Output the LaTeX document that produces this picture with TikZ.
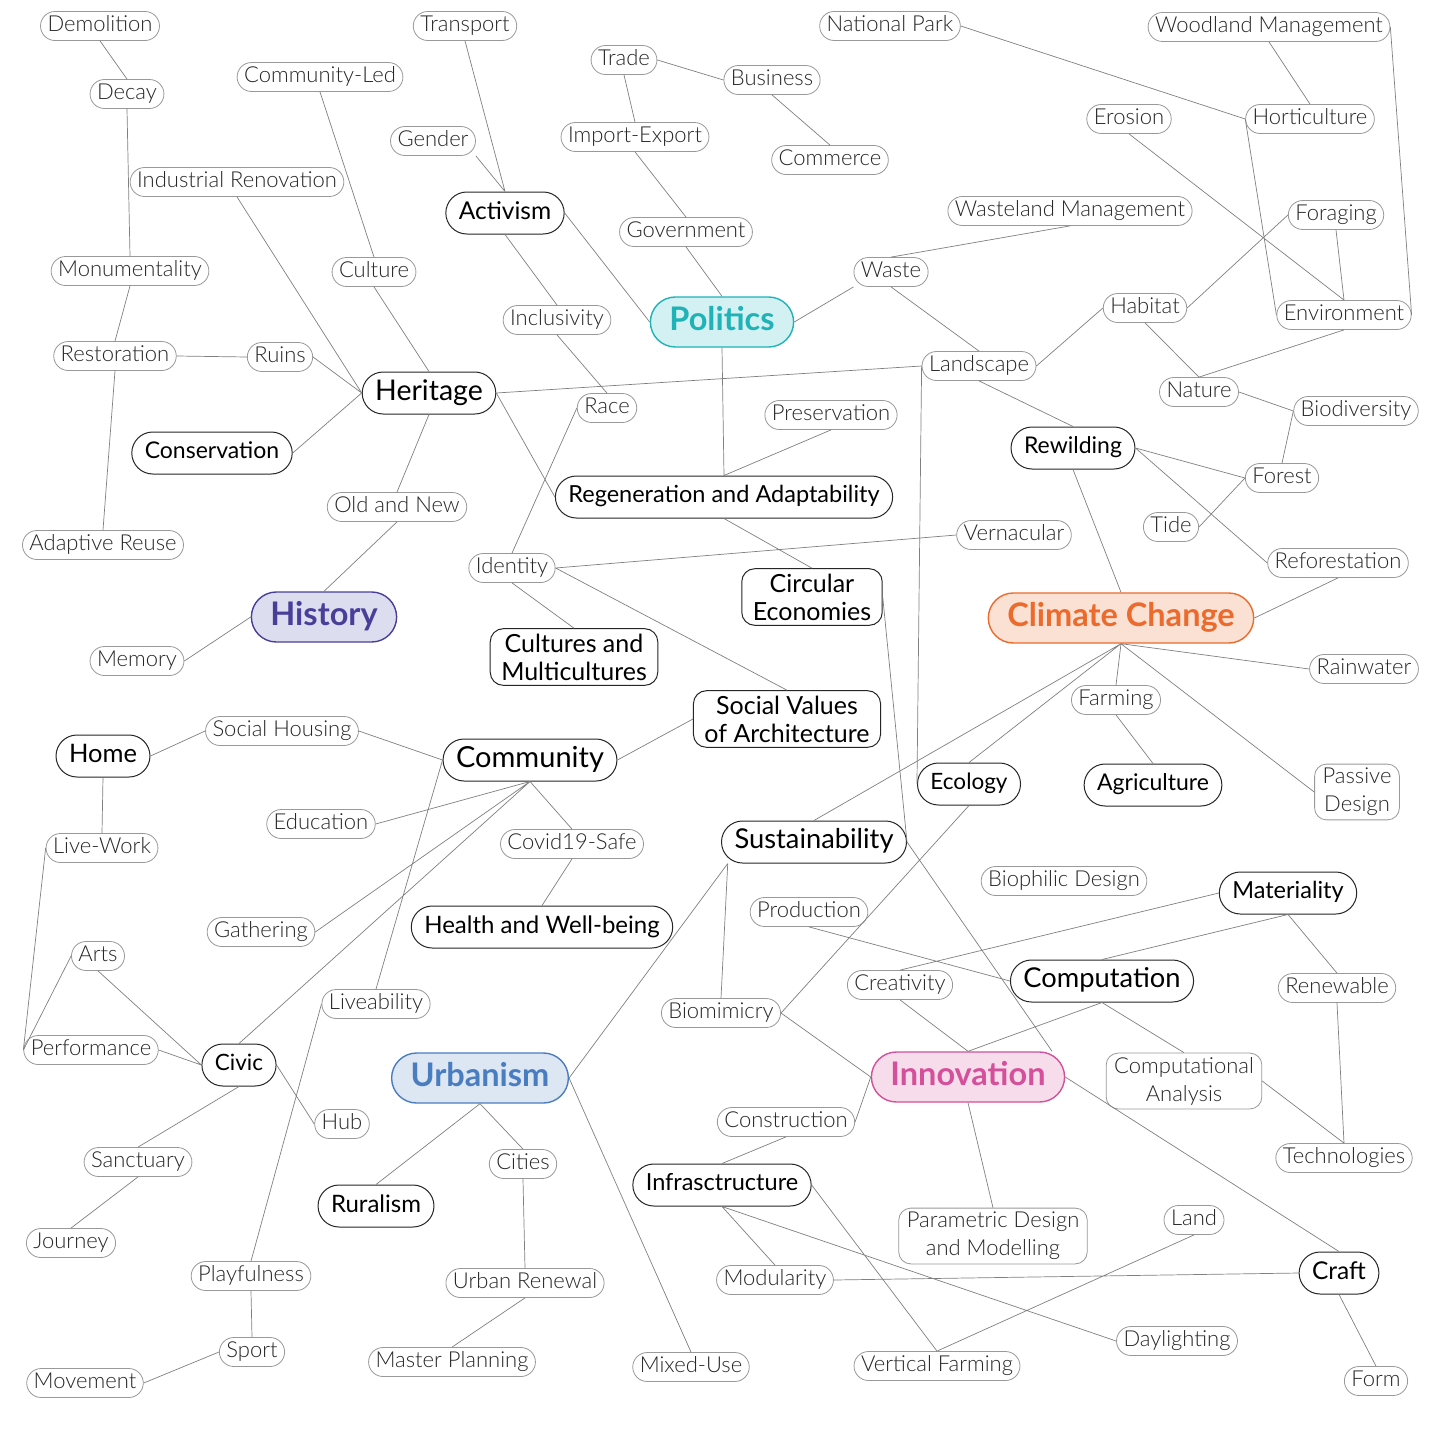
\documentclass[tikz,border=0pt]{standalone}
\usepackage{fontspec}
\setmainfont{Lato}[UprightFont=* Light,BoldFont=* Bold]
\newfontfamily\latomid{Lato}
\definecolor{polcol}{HTML}{1FB3B8}
\definecolor{polfill}{HTML}{D3F1F2}
\definecolor{histcol}{HTML}{4A3F98}
\definecolor{histfill}{HTML}{DDDDF0}
\definecolor{climcol}{HTML}{EC6A2C}
\definecolor{climfill}{HTML}{FBE1D3}
\definecolor{innocol}{HTML}{D4509A}
\definecolor{innofill}{HTML}{F7DDEC}
\definecolor{urbcol}{HTML}{4A7DC0}
\definecolor{urbfill}{HTML}{DDE6F3}
\tikzset{
  sm/.style={draw=black!40, line width=0.8pt, rounded corners=14.5pt, minimum height=29pt,
    inner xsep=7pt, inner ysep=0pt, text height=16pt, text depth=5pt, text=black!85,
    font=\fontsize{22}{24}\selectfont},
  smtwo/.style={draw=black!40, line width=0.8pt, rounded corners=12pt, inner xsep=8pt,
    inner ysep=4pt, align=center, text=black!85, font=\fontsize{22}{28}\selectfont},
  md/.style={draw=black!85, line width=1pt, rounded corners=21pt, minimum height=42pt,
    inner xsep=13pt, inner ysep=0pt, text height={0.72*#1pt}, text depth={0.22*#1pt},
    font=\latomid\fontsize{#1}{#1}\selectfont},
  md/.default=23.5,
  mdtwo/.style={draw=black!85, line width=1pt, rounded corners=13pt, inner xsep=11pt,
    inner ysep=5pt, align=center, font=\latomid\fontsize{25}{28}\selectfont},
  big/.style={draw=#1col, fill=#1fill, text=#1col, line width=1.4pt, rounded corners=25pt,
    minimum height=50pt, inner xsep=19pt, inner ysep=0pt, text height=24pt, text depth=7.5pt,
    font=\bfseries\fontsize{32.5}{35}\selectfont},
  link/.style={draw=black!50, line width=0.7pt}
}
\begin{document}
\begin{tikzpicture}[x=1pt, y=-1pt]
\fill[white] (0,0) rectangle (1443,1443);
\node[sm] (demol) at (100,26) {Demolition};
\node[sm] (decay) at (127,94) {Decay};
\node[sm] (cled) at (320,77) {Community-Led};
\node[sm] (transp) at (465,26) {Transport};
\node[sm] (trade) at (624,60) {Trade};
\node[sm] (busin) at (772,80) {Business};
\node[sm] (natpark) at (890,26) {National Park};
\node[sm] (woodman) at (1269,27) {Woodland Management};
\node[sm] (gender) at (433,141) {Gender};
\node[sm] (impexp) at (635,137) {Import-Export};
\node[sm] (commerce) at (830,160) {Commerce};
\node[sm] (erosion) at (1129,119) {Erosion};
\node[sm] (hortic) at (1310,119) {Horticulture};
\node[sm] (indren) at (237,182) {Industrial Renovation};
\node[md=24.5] (activ) at (505,213) {Activism};
\node[sm] (govt) at (686,232) {Government};
\node[sm] (wasteman) at (1070,211) {Wasteland Management};
\node[sm] (forag) at (1336,215) {Foraging};
\node[sm] (monum) at (130,271) {Monumentality};
\node[sm] (cult) at (374,272) {Culture};
\node[sm] (waste) at (891,272) {Waste};
\node[sm] (habit) at (1145,308) {Habitat};
\node[sm] (envir) at (1344,315) {Environment};
\node[sm] (inclus) at (557,320) {Inclusivity};
\node[big=pol] (polit) at (722,322) {Politics};
\node[sm] (restor) at (115,356) {Restoration};
\node[sm] (ruins) at (280,357) {Ruins};
\node[md=28.5] (herit) at (429,393) {Heritage};
\node[sm] (landsc) at (979,366) {Landscape};
\node[sm] (nature) at (1199,392) {Nature};
\node[sm] (race) at (607,408) {Race};
\node[sm] (preserv) at (831,415) {Preservation};
\node[sm] (biodiv) at (1356,411) {Biodiversity};
\node[md=23] (conserv) at (212,453) {Conservation};
\node[md=23] (rewild) at (1073,448) {Rewilding};
\node[sm] (oldnew) at (397,507) {Old and New};
\node[md] (regen) at (724,497) {Regeneration and Adaptability};
\node[sm] (forest) at (1282,478) {Forest};
\node[sm] (tide) at (1171,527) {Tide};
\node[sm] (vernac) at (1014,535) {Vernacular};
\node[sm] (adapt) at (103,545) {Adaptive Reuse};
\node[sm] (ident) at (512,568) {Identity};
\node[mdtwo] (circ) at (812,597) {Circular\\Economies};
\node[sm] (refor) at (1338,563) {Reforestation};
\node[big=hist] (hist) at (324,617) {History};
\node[big=clim] (clim) at (1121,618) {Climate Change};
\node[mdtwo] (multi) at (574,657) {Cultures and\\Multicultures};
\node[sm] (memory) at (137,661) {Memory};
\node[sm] (rain) at (1364,669) {Rainwater};
\node[sm] (farming) at (1116,700) {Farming};
\node[sm] (sochous) at (282,731) {Social Housing};
\node[mdtwo] (socval) at (787,719) {Social Values\\of Architecture};
\node[md=25.5] (home) at (103,756) {Home};
\node[md=29] (commun) at (530,760) {Community};
\node[md=22.5] (ecol) at (969,784) {Ecology};
\node[md=23] (agri) at (1153,785) {Agriculture};
\node[smtwo] (passive) at (1357,792) {Passive\\Design};
\node[sm] (educ) at (321,824) {Education};
\node[sm] (livework) at (102,848) {Live-Work};
\node[sm] (covid) at (572,844) {Covid19-Safe};
\node[md=27.3] (sustain) at (814,842) {Sustainability};
\node[sm] (biophil) at (1064,881) {Biophilic Design};
\node[md] (mater) at (1288,893) {Materiality};
\node[sm] (product) at (809,912) {Production};
\node[md=24] (health) at (542,927) {Health and Well-being};
\node[sm] (gather) at (261,932) {Gathering};
\node[sm] (arts) at (98,956) {Arts};
\node[sm] (creat) at (900,985) {Creativity};
\node[md=27.3] (comput) at (1102,981) {Computation};
\node[sm] (renew) at (1337,988) {Renewable};
\node[sm] (liveab) at (376,1004) {Liveability};
\node[sm] (biomim) at (721,1013) {Biomimicry};
\node[sm] (perform) at (91,1050) {Performance};
\node[md=22.5] (civic) at (239,1065) {Civic};
\node[big=inno] (innov) at (968,1077) {Innovation};
\node[big=urb] (urban) at (480,1078) {Urbanism};
\node[smtwo] (companal) at (1184,1081) {Computational\\Analysis};
\node[sm] (hub) at (342,1124) {Hub};
\node[sm] (constr) at (786,1122) {Construction};
\node[sm] (sanct) at (138,1162) {Sanctuary};
\node[sm] (cities) at (523,1164) {Cities};
\node[sm] (techn) at (1344,1158) {Technologies};
\node[md] (infra) at (722,1185) {Infrasctructure};
\node[md=24] (rural) at (376,1206) {Ruralism};
\node[sm] (land) at (1194,1220) {Land};
\node[smtwo] (param) at (993,1236) {Parametric Design\\and Modelling};
\node[sm] (journey) at (71,1243) {Journey};
\node[sm] (playful) at (251,1276) {Playfulness};
\node[md=24.5] (craft) at (1339,1273) {Craft};
\node[sm] (urbren) at (525,1283) {Urban Renewal};
\node[sm] (modul) at (775,1280) {Modularity};
\node[sm] (daylight) at (1177,1341) {Daylighting};
\node[sm] (sport) at (252,1352) {Sport};
\node[sm] (masterpl) at (452,1362) {Master Planning};
\node[sm] (mixeduse) at (691,1367) {Mixed-Use};
\node[sm] (vertfarm) at (937,1366) {Vertical Farming};
\node[sm] (movem) at (85,1383) {Movement};
\node[sm] (form) at (1376,1381) {Form};
\draw[link] (demol.south) -- (decay.north) (decay.south) -- (monum.north)
  (monum.south) -- (restor.north) (restor.south) -- (adapt.north)
  (restor.east) -- (ruins.west) (ruins.east) -- (herit.west)
  (indren.south) -- (herit.west) (cled.south) -- (cult.north)
  (cult.south) -- (herit.north) (conserv.east) -- (herit.west)
  (herit.south) -- (oldnew.north) (oldnew.south) -- (hist.north)
  (hist.west) -- (memory.east) (herit.east) -- (landsc.west)
  (herit.east) -- (regen.west);
\draw[link] (transp.south) -- (activ.north) (gender.south east) -- (activ.north)
  (activ.east) -- (polit.west) (activ.south) -- (inclus.north)
  (inclus.south) -- (race.north) (race.west) -- (ident.north)
  (trade.east) -- (busin.west) (trade.south) -- (impexp.north)
  (busin.south) -- (commerce.north) (impexp.south) -- (govt.north)
  (govt.south) -- (polit.north) (polit.east) -- (waste.south west)
  (polit.south) -- (regen.north) (preserv.south) -- (regen.north);
\draw[link] (waste.north) -- (wasteman.south) (waste.south) -- (landsc.north)
  (landsc.east) -- (habit.west) (landsc.south) -- (rewild.north)
  (landsc.west) -- (ecol.west) (natpark.east) -- (hortic.west)
  (woodman.south) -- (hortic.north) (woodman.east) -- (envir.east)
  (hortic.west) -- (envir.west) (erosion.south) -- (envir.north)
  (forag.south) -- (envir.north) (forag.west) -- (habit.east)
  (habit.south) -- (nature.north) (nature.north) -- (envir.south)
  (nature.east) -- (biodiv.west) (biodiv.west) -- (forest.north)
  (rewild.east) -- (forest.west) (rewild.east) -- (refor.west)
  (forest.west) -- (tide.east) (rewild.south) -- (clim.north)
  (refor.south) -- (clim.east);
\draw[link] (vernac.west) -- (ident.east) (regen.south) -- (circ.north)
  (ident.south) -- (multi.north) (ident.east) -- (socval.north)
  (circ.east) -- (sustain.east) (sustain.east) -- (innov.17)
  (clim.south) -- (farming.north)
  (farming.south) -- (agri.north) (clim.south) -- (rain.west)
  (clim.south) -- (passive.west) (clim.south) -- (ecol.north)
  (clim.south) -- (sustain.north) (ecol.south) -- (biomim.east)
  (socval.west) -- (commun.east);
\draw[link] (sochous.west) -- (home.east) (sochous.east) -- (commun.west)
  (home.south) -- (livework.north) (livework.west) -- (perform.west)
  (arts.west) -- (perform.west) (arts.south) -- (civic.west)
  (perform.east) -- (civic.west) (civic.east) -- (hub.west)
  (civic.south) -- (sanct.north) (sanct.south) -- (journey.north)
  (civic.north) -- (commun.south) (gather.east) -- (commun.south)
  (educ.east) -- (commun.south) (commun.south) -- (covid.north)
  (covid.south) -- (health.north) (commun.west) -- (liveab.north)
  (liveab.west) -- (playful.north) (playful.south) -- (sport.north)
  (sport.west) -- (movem.east);
\draw[link] (sustain.194) -- (biomim.north) (sustain.194) -- (urban.east)
  (product.south) -- (comput.west) (mater.west) -- (creat.north)
  (mater.south) -- (comput.north) (mater.south) -- (renew.north)
  (renew.south) -- (techn.north) (comput.south) -- (innov.north)
  (comput.south) -- (companal.north) (companal.east) -- (techn.north)
  (creat.south) -- (innov.north) (biomim.east) -- (innov.west)
  (innov.west) -- (constr.east) (innov.south) -- (param.north)
  (innov.east) -- (craft.north);
\draw[link] (constr.south) -- (infra.north) (infra.south) -- (modul.north)
  (infra.south) -- (daylight.west) (infra.east) -- (vertfarm.north)
  (vertfarm.north) -- (land.south) (modul.east) -- (craft.west)
  (craft.south) -- (form.north) (urban.south) -- (rural.north)
  (urban.south) -- (cities.north) (cities.south) -- (urbren.north)
  (urbren.south) -- (masterpl.north) (urban.east) -- (mixeduse.north);
\end{tikzpicture}
\end{document}
